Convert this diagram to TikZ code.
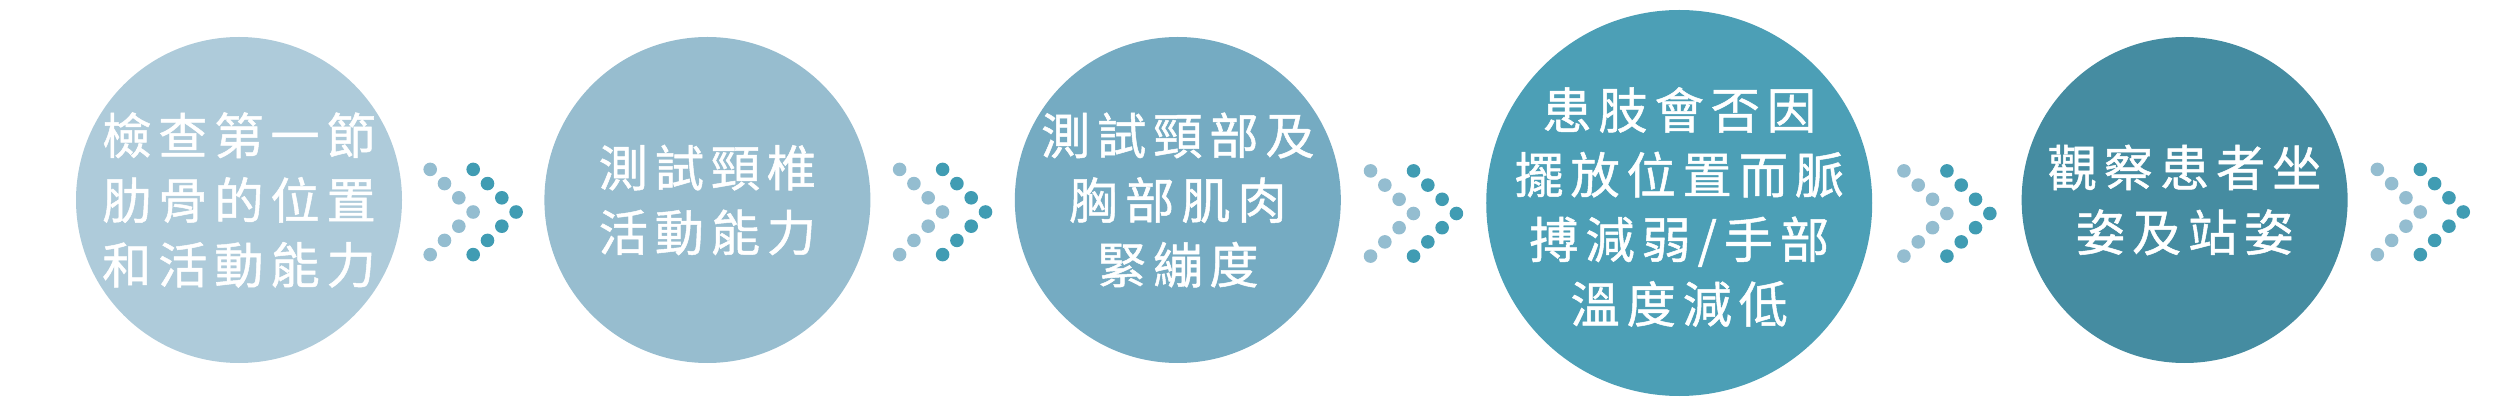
\documentclass[tikz,border=0pt]{standalone}
\usepackage{fontspec}
\usepackage{xcolor}
\usepackage{tikz}
\usetikzlibrary{calc}
\usetikzlibrary{positioning}
\newfontfamily\cjk[LetterSpace=14,FakeBold=1]{Noto Sans CJK TC}
\definecolor{stepA}{HTML}{AECBDA}
\definecolor{stepB}{HTML}{97BDCF}
\definecolor{stepC}{HTML}{75ABC2}
\definecolor{stepD}{HTML}{4C9FB6}
\definecolor{stepE}{HTML}{458CA1}
\definecolor{dotlight}{HTML}{94BDD0}
\definecolor{dotdark}{HTML}{409CB3}
\tikzset{
  stepcircle/.style={
    shape=circle,
    draw=none,
    inner sep=0pt,
    minimum size=3.26cm,
  },
  steptext/.style={
    align=center,
    inner sep=0pt,
    text=white,
    font=\cjk\fontsize{14}{18.4}\selectfont
  },
  lightdot/.style={
    fill=dotlight,
  },
  darkdot/.style={
    fill=dotdark,
  },
}

\begin{document}
\begin{tikzpicture}
       \useasboundingbox (0,0) rectangle (25.01,4.07);

       \node[stepcircle, fill=stepA] (s1) at (2.39,2.07) {};
       \node[stepcircle, fill=stepB] (s2) [right = 1.41cm of s1] {};
       \node[stepcircle, fill=stepC] (s3) [right = 1.43cm of s2] {};
       \node[stepcircle, fill=stepD, minimum size=3.86cm] (s4) [right = 1.44cm of s3, yshift=-0.03cm] {};
       \node[stepcircle, fill=stepE] (s5) [right = 1.48cm of s4, yshift=0.03cm] {};

       \node[steptext] (t1) at (s1) {檢查第一節\\肋骨的位置\\和活動能力};
       \node[steptext] (t2) at (s2) {測試頸椎\\活動能力};
       \node[steptext] (t3) at (s3) {測試頸部及\\胸部肌肉\\緊繃度};
       \node[steptext] (t4) at ([yshift=-0.04cm]s4) {患肢會否因\\擺放位置而脈\\搏減弱/手部\\溫度減低};
       \node[steptext] (t5) at (s5) {觀察患者坐\\姿及站姿};

       % dotted chevrons between the steps
       \coordinate (a1) at ($($(s1.east)!0.5!(s2.west)$)+(0,-0.12)$);
       \coordinate (a2) at ($($(s2.east)!0.5!(s3.west)$)+(0,-0.12)$);
       \coordinate (a3) at ($($(s3.east)!0.5!(s4.west)$)+(0,-0.12)$);
       \coordinate (a4) at ($($(s4.east)!0.5!(s5.west)$)+(0,-0.12)$);
       \coordinate (a5) at ($(s5.east)+(0.72,-0.12)$);

       \foreach \a in {a1,a2,a3,a4,a5}
         \foreach \k in {-3,...,3} {
           \fill[lightdot] ([shift={({(3-abs(\k))*0.143-0.43},{\k*0.142})}]\a) circle[radius=0.068];
           \fill[darkdot] ([shift={({(3-abs(\k))*0.143},{\k*0.142})}]\a) circle[radius=0.068];
         }
   \end{tikzpicture}
\end{document}
